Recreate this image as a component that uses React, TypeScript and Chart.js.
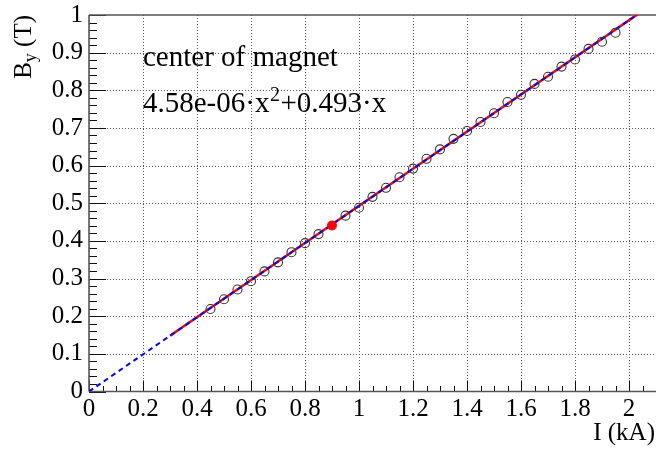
import { useEffect, useRef } from "react";
import { Chart, registerables } from "chart.js";

Chart.register(...registerables);

// Measured field at the magnet centre versus coil current
const currentKA = [
  0.45, 0.5, 0.55, 0.6, 0.65, 0.7, 0.75, 0.8, 0.85, 0.95, 1.0, 1.05, 1.1, 1.15,
  1.2, 1.25, 1.3, 1.35, 1.4, 1.45, 1.5, 1.55, 1.6, 1.65, 1.7, 1.75, 1.8, 1.85,
  1.9, 1.95,
];
const fieldT = [
  0.219, 0.245, 0.271, 0.293, 0.319, 0.343, 0.37, 0.394, 0.418, 0.467, 0.488,
  0.517, 0.541, 0.569, 0.592, 0.618, 0.643, 0.671, 0.692, 0.716, 0.739, 0.769,
  0.788, 0.817, 0.836, 0.863, 0.882, 0.91, 0.929, 0.953,
];

// Reference working point
const refCurrentKA = [0.9];
const refFieldT = [0.441];

// Quadratic fit B = a*I^2 + b*I
const fitA = 4.58e-6;
const fitB = 0.493;
const fitCurrentKA = [0.3, 1.2, 2.1];
const extrapCurrentKA = [0, 1.05, 2.1];

// Axes
const xMin = 0;
const xMax = 2.1;
const yMin = 0;
const yMax = 1;
const xTicks = [0, 0.2, 0.4, 0.6, 0.8, 1, 1.2, 1.4, 1.6, 1.8, 2];
const xTickLabels = ["0", "0.2", "0.4", "0.6", "0.8", "1", "1.2", "1.4", "1.6", "1.8", "2"];
const yTicks = [0, 0.1, 0.2, 0.3, 0.4, 0.5, 0.6, 0.7, 0.8, 0.9, 1];
const yTickLabels = ["0", "0.1", "0.2", "0.3", "0.4", "0.5", "0.6", "0.7", "0.8", "0.9", "1"];
const xMinorStep = 0.05;
const xMinorPerMajor = 4;
const yMinorStep = 0.02;
const yMinorPerMajor = 5;

// Frame (plot area) placement in the 656x449 canvas
const FRAME = { left: 89, top: 15, right: 656, bottom: 391.5 };

const SERIF = '"Liberation Serif", "Times New Roman", serif';

const fitLine = (xs: number[]) => xs.map((i) => ({ x: i, y: fitA * i * i + fitB * i }));

// Pin the plot area to a fixed frame, like a ROOT pad with fixed margins
const fixedFramePlugin = {
  id: "fixedFrame",
  afterLayout(chart: any) {
    const { x: xs, y: ys } = chart.scales;
    const area = chart.chartArea;
    area.left = FRAME.left;
    area.top = FRAME.top;
    area.right = FRAME.right;
    area.bottom = FRAME.bottom;
    area.width = FRAME.right - FRAME.left;
    area.height = FRAME.bottom - FRAME.top;

    xs.left = FRAME.left;
    xs.right = FRAME.right;
    xs.width = FRAME.right - FRAME.left;
    xs.top = FRAME.bottom;
    xs.bottom = chart.height;
    xs.height = chart.height - FRAME.bottom;
    xs.configure();

    ys.left = 0;
    ys.right = FRAME.left;
    ys.width = FRAME.left;
    ys.top = FRAME.top;
    ys.bottom = FRAME.bottom;
    ys.height = FRAME.bottom - FRAME.top;
    ys.configure();
  },
};

const framePlugin = {
  id: "rootFrame",
  beforeDatasetsDraw(chart: any) {
    const { ctx, chartArea: a, scales } = chart;
    const xs = scales.x;
    const ys = scales.y;
    const seg = (x1: number, y1: number, x2: number, y2: number) => {
      ctx.beginPath();
      ctx.moveTo(x1, y1);
      ctx.lineTo(x2, y2);
      ctx.stroke();
    };
    ctx.save();
    // dotted grid at major ticks
    ctx.lineWidth = 1;
    ctx.strokeStyle = "#555";
    ctx.setLineDash([1, 2]);
    for (const v of xTicks) {
      if (v <= xMin || v >= xMax) continue;
      const px = Math.round(xs.getPixelForValue(v)) + 0.5;
      seg(px, a.top, px, a.bottom);
    }
    for (const v of yTicks) {
      if (v <= yMin || v >= yMax) continue;
      const py = Math.round(ys.getPixelForValue(v)) + 0.5;
      seg(a.left, py, a.right, py);
    }
    ctx.setLineDash([]);
    // inward ticks
    ctx.strokeStyle = "#111";
    for (let i = 0; i * xMinorStep <= xMax + 1e-9; i++) {
      const px = Math.round(xs.getPixelForValue(i * xMinorStep)) + 0.5;
      const len = i % xMinorPerMajor === 0 ? 11 : 5.5;
      seg(px, a.bottom, px, a.bottom - len);
    }
    for (let i = 0; i * yMinorStep <= yMax + 1e-9; i++) {
      const py = Math.round(ys.getPixelForValue(i * yMinorStep)) + 0.5;
      const len = i % yMinorPerMajor === 0 ? 17 : 8;
      seg(a.left, py, a.left + len, py);
    }
    // frame
    ctx.strokeStyle = "#555";
    ctx.lineWidth = 1.6;
    seg(a.left, a.bottom, a.left, a.top);
    seg(a.left, a.top, a.right, a.top);
    seg(a.left, a.bottom, a.right, a.bottom);
    ctx.restore();
  },
  afterDraw(chart: any) {
    const { ctx } = chart;
    ctx.save();
    ctx.fillStyle = "#000";
    ctx.textBaseline = "alphabetic";

    // annotation text
    ctx.font = `29px ${SERIF}`;
    ctx.textAlign = "left";
    ctx.fillText("center of magnet", 143, 66);
    let cx = 143;
    const part1 = "4.58e-06\u00b7x";
    ctx.fillText(part1, cx, 112);
    cx += ctx.measureText(part1).width;
    ctx.font = `20px ${SERIF}`;
    ctx.fillText("2", cx + 0.5, 101);
    cx += ctx.measureText("2").width + 1;
    ctx.font = `29px ${SERIF}`;
    ctx.fillText("+0.493\u00b7x", cx, 112);

    // x title, right aligned
    ctx.font = `25px ${SERIF}`;
    ctx.textAlign = "right";
    ctx.fillText("I (kA)", 655, 440);

    // y title, rotated and aligned to the top
    ctx.translate(31, 15);
    ctx.rotate(-Math.PI / 2);
    ctx.textAlign = "left";
    ctx.font = `25px ${SERIF}`;
    const wB = ctx.measureText("B").width;
    ctx.font = `18px ${SERIF}`;
    const wy = ctx.measureText("y").width;
    ctx.font = `25px ${SERIF}`;
    const wT = ctx.measureText(" (T)").width;
    let tx = -(wB + wy + wT);
    ctx.fillText("B", tx, 0);
    tx += wB;
    ctx.font = `18px ${SERIF}`;
    ctx.fillText("y", tx, 5);
    tx += wy;
    ctx.font = `25px ${SERIF}`;
    ctx.fillText(" (T)", tx, 0);
    ctx.restore();
  },
};

function buildChart(canvas: HTMLCanvasElement) {
  return new Chart(canvas, {
    type: "scatter",
    data: {
      datasets: [
        {
          label: "working point",
          data: refCurrentKA.map((x, i) => ({ x, y: refFieldT[i] })),
          pointRadius: 4.5,
          pointBackgroundColor: "#ff0000",
          pointBorderColor: "#ff0000",
          pointBorderWidth: 1,
        },
        {
          label: "measured",
          data: currentKA.map((x, i) => ({ x, y: fieldT[i] })),
          pointRadius: 4.5,
          pointBackgroundColor: "rgba(0,0,0,0)",
          pointBorderColor: "#333",
          pointBorderWidth: 1.1,
        },
        {
          label: "extrapolation",
          data: fitLine(extrapCurrentKA),
          showLine: true,
          pointRadius: 0,
          borderColor: "#0000ff",
          borderWidth: 2,
          borderDash: [5, 4],
        },
        {
          label: "fit",
          data: fitLine(fitCurrentKA),
          showLine: true,
          pointRadius: 0,
          borderColor: "#ff0000",
          borderWidth: 2.5,
        },
      ],
    },
    options: {
      responsive: false,
      animation: false,
      events: [],
      layout: { padding: { top: 15, right: 0, left: 0, bottom: 0 } },
      plugins: {
        legend: { display: false },
        tooltip: { enabled: false },
      },
      scales: {
        x: {
          type: "linear",
          min: xMin,
          max: xMax,
          grid: { display: false, drawTicks: false },
          border: { display: false },
          afterBuildTicks: (s: any) => {
            s.ticks = xTicks.map((value) => ({ value }));
          },
          ticks: {
            autoSkip: false,
            maxRotation: 0,
            padding: 3,
            color: "#000",
            font: { family: SERIF, size: 25 },
            callback: (_v: any, i: number) => xTickLabels[i],
          },
        },
        y: {
          type: "linear",
          min: yMin,
          max: yMax,
          grid: { display: false, drawTicks: false },
          border: { display: false },
          afterBuildTicks: (s: any) => {
            s.ticks = yTicks.map((value) => ({ value }));
          },
          ticks: {
            autoSkip: false,
            padding: 6,
            color: "#000",
            font: { family: SERIF, size: 25 },
            callback: (_v: any, i: number) => yTickLabels[i],
          },
        },
      },
    },
    plugins: [fixedFramePlugin, framePlugin],
  });
}

export default function App() {
  const canvasRef = useRef<HTMLCanvasElement | null>(null);

  useEffect(() => {
    if (!canvasRef.current) return;
    const chart = buildChart(canvasRef.current);
    return () => chart.destroy();
  }, []);

  return (
    <div style={{ position: "absolute", left: 0, top: 0, width: 656, height: 449, background: "#fff" }}>
      <canvas ref={canvasRef} width={656} height={449} style={{ display: "block" }} />
    </div>
  );
}
